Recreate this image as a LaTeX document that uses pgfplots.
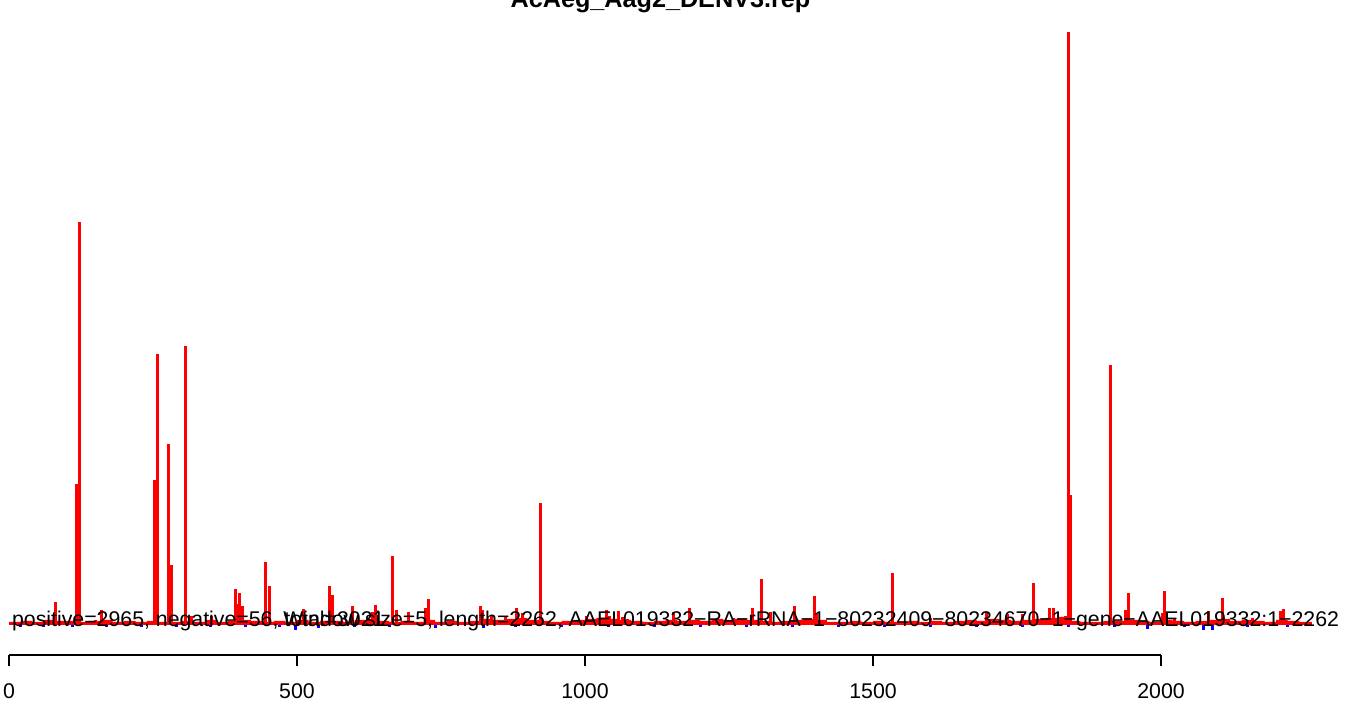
\documentclass[border=0pt]{standalone}
\usepackage{fontspec}
\setmainfont{Liberation Sans}
\usepackage{pgfplots}
\pgfplotsset{compat=1.18}
\definecolor{posred}{HTML}{FF0000}
\definecolor{negblue}{HTML}{0000FF}

% heights are in px above the zero line of the reference
\pgfplotstableread{
x h
0 3
20 4
40 3
60 5
80 4
100 4
120 3
140 4
160 5
180 3
200 4
220 3
240 4
260 3
280 3
300 4
320 3
340 5
360 3
380 4
400 5
420 4
440 3
460 4
480 3
500 5
520 3
540 4
560 4
580 3
600 5
620 6
640 4
660 3
680 4
700 3
720 5
740 3
760 4
780 3
800 4
820 6
840 5
860 6
880 7
900 5
920 4
940 3
960 4
980 5
1000 6
1020 7
1040 6
1060 5
1080 4
1100 3
1120 4
1140 5
1160 4
1180 5
1200 4
1220 6
1240 5
1260 6
1280 5
1300 4
1320 3
1340 4
1360 5
1380 6
1400 5
1420 3
1440 3
1460 4
1480 3
1500 4
1520 3
1540 3
1560 4
1580 3
1600 4
1620 3
1640 4
1660 5
1680 4
1700 6
1720 5
1740 4
1760 5
1780 6
1800 7
1820 8
1840 4
1860 3
1880 3
1900 4
1920 4
1940 5
1960 4
1980 3
2000 5
2020 4
2040 3
2060 4
2080 5
2100 6
2120 4
2140 5
2160 4
2180 3
2200 5
2220 4
2240 3
2262 2
}\basetab

\pgfplotstableread{
x h
80 23
118 141
122 403
151 5
160 15
252 145
257 271
277 181
282 60
307 279
316 9
352 9
393 36
397 21
401 32
406 19
446 63
452 39
512 16
556 39
562 30
596 19
631 13
637 20
666 69
672 15
693 13
723 17
728 26
818 19
822 15
838 9
862 9
881 17
892 12
922 122
1003 9
1038 15
1043 9
1058 14
1065 8
1073 6
1153 13
1182 17
1257 7
1291 17
1307 46
1322 13
1363 19
1398 29
1402 11
1533 52
1599 7
1697 13
1734 11
1759 11
1778 42
1807 17
1814 17
1834 9
1839 593
1843 130
1913 260
1938 15
1943 32
2002 12
2006 34
2024 6
2083 14
2107 27
2118 3
2158 7
2208 14
2213 16
2233 3
}\spiketab

\pgfplotstableread{
x h
20 -2
60 -2
110 -2
170 -2
230 -2
290 -2
350 -2
410 -2
470 -2
497 -5
538 -3
600 -2
660 -2
740 -3
823 -3
880 -2
960 -2
1040 -2
1120 -2
1200 -2
1280 -2
1360 -2
1440 -2
1520 -2
1600 -2
1680 -2
1760 -2
1840 -2
1920 -2
1977 -4
2040 -2
2073 -5
2090 -5
2150 -2
2220 -2
}\negtab

\begin{document}
\begin{tikzpicture}
\begin{axis}[
  width=1352pt, height=704pt, scale only axis,
  xmin=-15.625, xmax=2331.6,
  ymin=-79, ymax=625,
  axis lines=none,
  clip=false,
]
\coordinate (bl) at (rel axis cs:0,0);
\coordinate (tr) at (rel axis cs:1,1);
\addplot[draw=none, fill=posred, const plot mark left] table[x=x, y=h] {\basetab} \closedcycle;
\addplot[ycomb, posred, line width=3pt, no markers] table[x=x, y=h] {\spiketab};
\addplot[ycomb, negblue, line width=3pt, no markers] table[x=x, y=h] {\negtab};
% x axis as drawn by R
\draw[line width=1.5pt] (axis cs:0,-30) -- (axis cs:2000,-30);
\pgfplotsinvokeforeach{0,500,1000,1500,2000}{
  \draw[line width=1.5pt] (axis cs:#1,-30) -- (axis cs:#1,-41);
  \node[anchor=base, font=\fontsize{21.3}{25}\selectfont, inner sep=0pt] at (axis cs:#1,-74) {#1};
}
\node[anchor=base west, font=\fontsize{21.3}{25}\selectfont, inner sep=0pt] at (axis cs:5,-2)
  {positive=2965, negative=56, total=3021};
\node[anchor=base west, font=\fontsize{21.3}{25}\selectfont, inner sep=0pt] at (axis cs:476,-2)
  {Window size=5, length=2262, AAEL019332−RA−rRNA−1−80232409−80234670−1−gene−AAEL019332:1−2262};
\node[anchor=base, font=\bfseries\fontsize{25.2}{30}\selectfont, inner sep=0pt] at (axis cs:1131,617)
  {AcAeg\_Aag2\_DENV3.rep};
\end{axis}
\pgfresetboundingbox
\useasboundingbox (bl) rectangle (tr);
\end{tikzpicture}
\end{document}
